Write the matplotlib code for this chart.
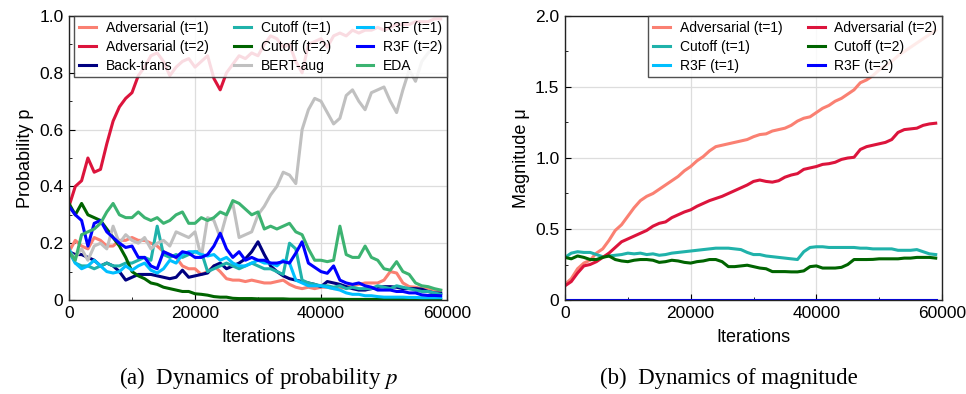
import numpy as np
import matplotlib
matplotlib.use("Agg")
import matplotlib.pyplot as plt
from matplotlib.ticker import MultipleLocator, FuncFormatter

plt.rcParams["font.family"] = ["Liberation Sans", "DejaVu Sans"]
plt.rcParams["mathtext.fontset"] = "stix"

# iteration grid (every 1000 steps)
iters = list(range(0, 60000, 1000))

# ---- (a) probability p ----
adv1_p = [0.17, 0.21, 0.19, 0.18, 0.22, 0.21, 0.19, 0.19, 0.21, 0.21,
          0.22, 0.21, 0.21, 0.20, 0.19, 0.17, 0.16, 0.15, 0.12, 0.11,
          0.11, 0.09, 0.10, 0.12, 0.10, 0.075, 0.07, 0.07, 0.065, 0.07,
          0.065, 0.06, 0.06, 0.065, 0.07, 0.055, 0.045, 0.04, 0.045, 0.04,
          0.045, 0.045, 0.04, 0.04, 0.045, 0.05, 0.055, 0.06, 0.06, 0.06,
          0.07, 0.10, 0.095, 0.06, 0.047, 0.045, 0.04, 0.04, 0.035, 0.033]
adv2_p = [0.33, 0.40, 0.42, 0.50, 0.45, 0.46, 0.55, 0.63, 0.68, 0.71,
          0.73, 0.79, 0.82, 0.86, 0.87, 0.84, 0.79, 0.82, 0.84, 0.85,
          0.82, 0.84, 0.86, 0.78, 0.74, 0.80, 0.83, 0.86, 0.85, 0.87,
          0.86, 0.90, 0.93, 0.92, 0.89, 0.90, 0.84, 0.80, 0.90, 0.91,
          0.92, 0.89, 0.93, 0.94, 0.93, 0.95, 0.94, 0.95, 0.95, 0.96,
          0.95, 0.96, 0.97, 0.97, 0.97, 0.98, 0.98, 0.98, 0.99, 0.99]
backtrans_p = [0.17, 0.16, 0.16, 0.15, 0.14, 0.12, 0.13, 0.12, 0.10, 0.07,
               0.08, 0.09, 0.09, 0.09, 0.085, 0.08, 0.075, 0.08, 0.105, 0.08,
               0.085, 0.09, 0.095, 0.12, 0.13, 0.11, 0.12, 0.13, 0.145, 0.17,
               0.205, 0.16, 0.12, 0.10, 0.085, 0.075, 0.07, 0.065, 0.06, 0.055,
               0.047, 0.065, 0.06, 0.055, 0.047, 0.04, 0.035, 0.035, 0.04, 0.045,
               0.047, 0.047, 0.045, 0.04, 0.04, 0.04, 0.038, 0.03, 0.025, 0.024]
cut1_p = [0.17, 0.13, 0.12, 0.12, 0.11, 0.12, 0.13, 0.12, 0.12, 0.13,
          0.13, 0.14, 0.15, 0.14, 0.26, 0.16, 0.15, 0.16, 0.15, 0.16,
          0.17, 0.17, 0.10, 0.11, 0.12, 0.13, 0.12, 0.11, 0.12, 0.13,
          0.12, 0.11, 0.11, 0.10, 0.09, 0.20, 0.18, 0.07, 0.06, 0.055,
          0.05, 0.05, 0.045, 0.05, 0.04, 0.045, 0.04, 0.04, 0.04, 0.05,
          0.045, 0.04, 0.05, 0.045, 0.04, 0.035, 0.03, 0.03, 0.025, 0.02]
cut2_p = [0.34, 0.30, 0.34, 0.30, 0.29, 0.28, 0.25, 0.22, 0.19, 0.15,
          0.10, 0.085, 0.075, 0.06, 0.055, 0.045, 0.04, 0.035, 0.03, 0.03,
          0.022, 0.02, 0.017, 0.012, 0.01, 0.01, 0.006, 0.005, 0.005, 0.005,
          0.004, 0.004, 0.004, 0.004, 0.004, 0.003, 0.003, 0.003, 0.003, 0.003,
          0.003, 0.003, 0.003, 0.003, 0.002, 0.002, 0.002, 0.002, 0.002, 0.002,
          0.002, 0.002, 0.002, 0.002, 0.002, 0.002, 0.002, 0.002, 0.002, 0.002]
bert_p = [0.17, 0.15, 0.18, 0.14, 0.19, 0.20, 0.18, 0.26, 0.20, 0.23,
          0.21, 0.20, 0.22, 0.18, 0.20, 0.21, 0.19, 0.24, 0.23, 0.22,
          0.24, 0.15, 0.29, 0.28, 0.22, 0.30, 0.34, 0.22, 0.23, 0.24,
          0.30, 0.33, 0.37, 0.40, 0.45, 0.44, 0.41, 0.60, 0.67, 0.71,
          0.70, 0.66, 0.62, 0.64, 0.72, 0.74, 0.70, 0.67, 0.73, 0.74,
          0.75, 0.70, 0.66, 0.74, 0.81, 0.77, 0.84, 0.87, 0.89, 0.91]
r3f1_p = [0.18, 0.13, 0.11, 0.12, 0.14, 0.12, 0.10, 0.095, 0.10, 0.12,
          0.105, 0.12, 0.13, 0.105, 0.095, 0.11, 0.14, 0.13, 0.16, 0.17,
          0.17, 0.16, 0.155, 0.16, 0.14, 0.15, 0.13, 0.12, 0.12, 0.13,
          0.14, 0.13, 0.13, 0.12, 0.14, 0.13, 0.07, 0.06, 0.05, 0.05,
          0.05, 0.045, 0.04, 0.035, 0.025, 0.02, 0.02, 0.015, 0.015, 0.012,
          0.01, 0.01, 0.01, 0.01, 0.009, 0.009, 0.008, 0.008, 0.008, 0.008]
r3f2_p = [0.33, 0.30, 0.28, 0.19, 0.27, 0.28, 0.24, 0.22, 0.20, 0.185,
          0.19, 0.15, 0.15, 0.12, 0.11, 0.17, 0.16, 0.15, 0.17, 0.165,
          0.15, 0.15, 0.16, 0.19, 0.235, 0.18, 0.15, 0.17, 0.14, 0.15,
          0.14, 0.14, 0.13, 0.13, 0.135, 0.13, 0.165, 0.205, 0.13, 0.115,
          0.10, 0.094, 0.12, 0.07, 0.06, 0.055, 0.06, 0.05, 0.045, 0.035,
          0.035, 0.035, 0.03, 0.03, 0.025, 0.025, 0.018, 0.016, 0.016, 0.015]
eda_p = [0.17, 0.14, 0.23, 0.24, 0.25, 0.27, 0.31, 0.34, 0.30, 0.29,
         0.29, 0.31, 0.29, 0.28, 0.29, 0.27, 0.28, 0.30, 0.31, 0.27,
         0.27, 0.29, 0.28, 0.29, 0.31, 0.30, 0.35, 0.34, 0.32, 0.30,
         0.31, 0.25, 0.26, 0.25, 0.26, 0.27, 0.24, 0.23, 0.18, 0.14,
         0.14, 0.135, 0.14, 0.26, 0.16, 0.15, 0.15, 0.19, 0.15, 0.14,
         0.11, 0.105, 0.135, 0.10, 0.09, 0.06, 0.05, 0.047, 0.04, 0.035]

# ---- (b) magnitude mu ----
adv1_mu = [0.11, 0.15, 0.22, 0.26, 0.28, 0.33, 0.36, 0.42, 0.49, 0.53,
           0.59, 0.65, 0.70, 0.73, 0.75, 0.78, 0.81, 0.84, 0.87, 0.91,
           0.94, 0.98, 1.01, 1.05, 1.08, 1.09, 1.10, 1.11, 1.12, 1.13,
           1.15, 1.165, 1.17, 1.19, 1.20, 1.21, 1.23, 1.26, 1.28, 1.29,
           1.32, 1.35, 1.37, 1.40, 1.42, 1.45, 1.48, 1.53, 1.55, 1.58,
           1.62, 1.65, 1.68, 1.72, 1.75, 1.78, 1.81, 1.84, 1.87, 1.90]
adv2_mu = [0.10, 0.13, 0.19, 0.24, 0.25, 0.27, 0.30, 0.33, 0.37, 0.41,
           0.43, 0.45, 0.47, 0.49, 0.52, 0.54, 0.55, 0.58, 0.60, 0.62,
           0.635, 0.66, 0.68, 0.70, 0.715, 0.73, 0.75, 0.77, 0.79, 0.81,
           0.835, 0.845, 0.835, 0.83, 0.84, 0.865, 0.88, 0.89, 0.92, 0.93,
           0.94, 0.955, 0.96, 0.97, 0.99, 1.0, 1.005, 1.06, 1.08, 1.09,
           1.10, 1.11, 1.13, 1.18, 1.20, 1.205, 1.21, 1.23, 1.24, 1.245]
cut1_mu = [0.30, 0.33, 0.34, 0.335, 0.335, 0.32, 0.305, 0.31, 0.315, 0.32,
           0.33, 0.325, 0.33, 0.32, 0.325, 0.315, 0.32, 0.33, 0.335, 0.34,
           0.345, 0.35, 0.355, 0.36, 0.365, 0.365, 0.365, 0.36, 0.355, 0.335,
           0.32, 0.32, 0.31, 0.305, 0.30, 0.295, 0.29, 0.285, 0.34, 0.37,
           0.375, 0.375, 0.37, 0.37, 0.37, 0.37, 0.37, 0.365, 0.365, 0.36,
           0.36, 0.36, 0.36, 0.35, 0.35, 0.35, 0.355, 0.34, 0.325, 0.32]
cut2_mu = [0.30, 0.29, 0.31, 0.30, 0.285, 0.285, 0.30, 0.31, 0.285, 0.275,
           0.27, 0.28, 0.285, 0.285, 0.28, 0.265, 0.27, 0.28, 0.275, 0.265,
           0.26, 0.27, 0.275, 0.285, 0.285, 0.27, 0.235, 0.235, 0.24, 0.245,
           0.235, 0.225, 0.22, 0.20, 0.20, 0.20, 0.198, 0.198, 0.205, 0.235,
           0.24, 0.225, 0.225, 0.225, 0.23, 0.25, 0.285, 0.285, 0.285, 0.286,
           0.29, 0.29, 0.29, 0.29, 0.295, 0.295, 0.30, 0.30, 0.30, 0.295]
r3f_iters = [0, 59000]
r3f1_mu = [0.0, 0.0]
r3f2_mu = [0.003, 0.003]

colors = {
    "adv1": "#FA8072", "adv2": "#DC143C", "back": "#000080",
    "cut1": "#20B2AA", "cut2": "#006400", "bert": "#C0C0C0",
    "r3f1": "#00BFFF", "r3f2": "#0000FF", "eda": "#3CB371",
}

fig = plt.figure(figsize=(9.66, 3.94), dpi=100)
ax1 = fig.add_axes([69 / 966, 94 / 394, 378 / 966, 284 / 394])
ax2 = fig.add_axes([565 / 966, 94 / 394, 377 / 966, 284 / 394])

lw = 2.2
ax1.plot(iters, adv1_p, color=colors["adv1"], lw=lw, label="Adversarial (t=1)")
ax1.plot(iters, adv2_p, color=colors["adv2"], lw=lw, label="Adversarial (t=2)")
ax1.plot(iters, backtrans_p, color=colors["back"], lw=lw, label="Back-trans")
ax1.plot(iters, cut1_p, color=colors["cut1"], lw=lw, label="Cutoff (t=1)")
ax1.plot(iters, cut2_p, color=colors["cut2"], lw=lw, label="Cutoff (t=2)")
ax1.plot(iters, bert_p, color=colors["bert"], lw=lw, label="BERT-aug")
ax1.plot(iters, r3f1_p, color=colors["r3f1"], lw=lw, label="R3F (t=1)")
ax1.plot(iters, r3f2_p, color=colors["r3f2"], lw=lw, label="R3F (t=2)")
ax1.plot(iters, eda_p, color=colors["eda"], lw=lw, label="EDA")

ax2.plot(iters, adv1_mu, color=colors["adv1"], lw=lw, label="Adversarial (t=1)")
ax2.plot(iters, cut1_mu, color=colors["cut1"], lw=lw, label="Cutoff (t=1)")
ax2.plot(r3f_iters, r3f1_mu, color=colors["r3f1"], lw=lw, label="R3F (t=1)")
ax2.plot(iters, adv2_mu, color=colors["adv2"], lw=lw, label="Adversarial (t=2)")
ax2.plot(iters, cut2_mu, color=colors["cut2"], lw=lw, label="Cutoff (t=2)")
ax2.plot(r3f_iters, r3f2_mu, color=colors["r3f2"], lw=lw, label="R3F (t=2)")

fmt = FuncFormatter(lambda v, pos: "0" if abs(v) < 1e-9 else f"{v:.1f}")
for ax, ymax, ystep, ylabel in [(ax1, 1.0, 0.2, "Probability p"),
                                (ax2, 2.0, 0.5, "Magnitude μ")]:
    ax.set_xlim(0, 60000)
    ax.set_ylim(0, ymax)
    ax.xaxis.set_major_locator(MultipleLocator(20000))
    ax.xaxis.set_minor_locator(MultipleLocator(10000))
    ax.yaxis.set_major_locator(MultipleLocator(ystep))
    ax.yaxis.set_minor_locator(MultipleLocator(ystep / 2))
    ax.yaxis.set_major_formatter(fmt)
    ax.tick_params(which="both", direction="in", labelsize=12.5, pad=4)
    ax.tick_params(which="major", length=4)
    ax.tick_params(which="minor", length=2.5)
    ax.grid(True, which="major", color="#DDDDDD", lw=0.9)
    ax.set_axisbelow(True)
    ax.set_xlabel("Iterations", fontsize=13, labelpad=6)
    ax.set_ylabel(ylabel, fontsize=13, labelpad=4)
    for s in ax.spines.values():
        s.set_linewidth(1.0)
        s.set_color("#222222")

leg_kw = dict(loc="upper right", borderaxespad=0, fontsize=10, fancybox=False,
              framealpha=0.85, edgecolor="#333333", handlelength=1.2,
              handletextpad=0.7, labelspacing=0.35, borderpad=0.35,
              columnspacing=1.85)
leg1 = ax1.legend(ncol=3, **leg_kw)
leg1.get_frame().set_linewidth(1.0)
leg2 = ax2.legend(ncol=2, **leg_kw)
leg2.get_frame().set_linewidth(1.0)

cap = dict(fontsize=16.5, family="Liberation Serif", ha="center", va="center")
fig.text(258 / 966, 1 - 378 / 394, "(a)  Dynamics of probability $p$", **cap)
fig.text(729 / 966, 1 - 378 / 394, "(b)  Dynamics of magnitude", **cap)

fig.savefig("out.png", dpi=100)
